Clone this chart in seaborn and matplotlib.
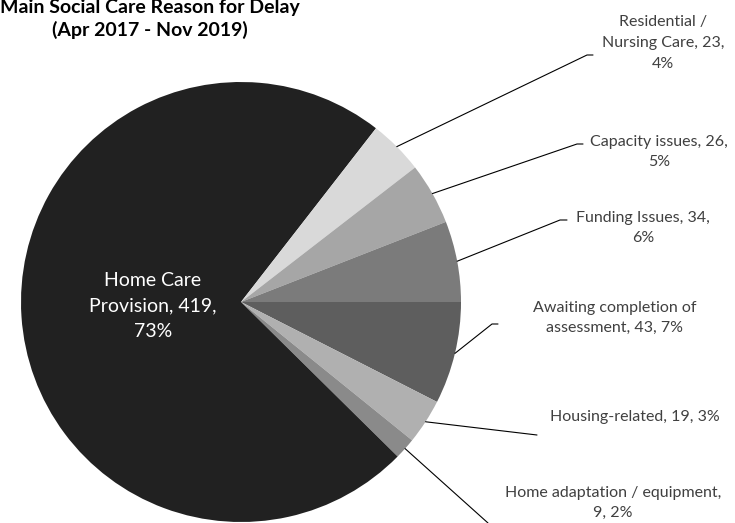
import numpy as np
import seaborn as sns
import matplotlib
matplotlib.use("Agg")
import matplotlib.pyplot as plt

sns.set_style("white")
plt.rcParams['font.family'] = ['Lato', 'DejaVu Sans']

# slices in drawing order (clockwise, starting at 3 o'clock)
reasons = ["Awaiting completion of assessment", "Housing-related",
           "Home adaptation / equipment", "Home Care Provision",
           "Residential / Nursing Care", "Capacity issues", "Funding Issues"]
counts = [43, 19, 9, 419, 23, 26, 34]
label_text = [
    "Awaiting completion of\nassessment, 43, 7%",
    "Housing-related, 19, 3%",
    "Home adaptation / equipment,\n9, 2%",
    "Home Care\nProvision, 419,\n73%",
    "Residential /\nNursing Care, 23,\n4%",
    "Capacity issues, 26,\n5%",
    "Funding Issues, 34,\n6%",
]
colors = ["#5e5e5e", "#b0b0b0", "#8a8a8a", "#212121",
          "#d9d9d9", "#a6a6a6", "#7b7b7b"]

W, H = 735, 523
cx, cy, R = 241, 302, 220

fig = plt.figure(figsize=(W / 100, H / 100), dpi=100)
ax = fig.add_axes([(cx - R) / W, (H - cy - R) / H, 2 * R / W, 2 * R / H])

wedges, _ = ax.pie(counts, colors=colors, startangle=0, counterclock=False,
                   radius=1, wedgeprops=dict(linewidth=0))
ax.set_xlim(-1, 1)
ax.set_ylim(-1, 1)
ax.set_aspect("equal")
ax.axis("off")


def to_data(px, py):
    return (px - cx) / R, (cy - py) / R


# label placement (pixel positions of text centre, leader elbow, leader end)
layout = {
    0: dict(text=(615, 318), elbow=(492, 324), end=(498, 324)),
    1: dict(text=(635, 417), elbow=(537, 435), end=None),
    2: dict(text=(613, 503), elbow=(488, 523), end=None),
    4: dict(text=(663, 43), elbow=(587, 55), end=(593, 55)),
    5: dict(text=(659, 152), elbow=(577, 144), end=(583, 144)),
    6: dict(text=(643, 228), elbow=(560, 220), end=(567, 220)),
}

for i, w in enumerate(wedges):
    if i == 3:
        tx, ty = to_data(153, 306)
        ax.text(tx, ty, label_text[i], color="white", fontsize=14,
                ha="center", va="center", linespacing=1.6)
        continue
    lay = layout[i]
    mid = np.deg2rad((w.theta1 + w.theta2) / 2)
    ax0, ay0 = np.cos(mid), np.sin(mid)
    ex, ey = to_data(*lay["elbow"])
    xs, ys = [ax0, ex], [ay0, ey]
    if lay["end"] is not None:
        fx, fy = to_data(*lay["end"])
        xs.append(fx)
        ys.append(fy)
    ax.plot(xs, ys, color="black", lw=0.8, clip_on=False)
    tx, ty = to_data(*lay["text"])
    ax.text(tx, ty, label_text[i], color="#404040", fontsize=11.5,
            ha="center", va="center", linespacing=1.6, clip_on=False)

fig.text(150 / W, 1 - 19 / H, "Main Social Care Reason for Delay\n(Apr 2017 - Nov 2019)",
         ha="center", va="center", fontsize=14, fontweight="bold",
         color="black", linespacing=1.3)

fig.savefig("out.png", dpi=100)
